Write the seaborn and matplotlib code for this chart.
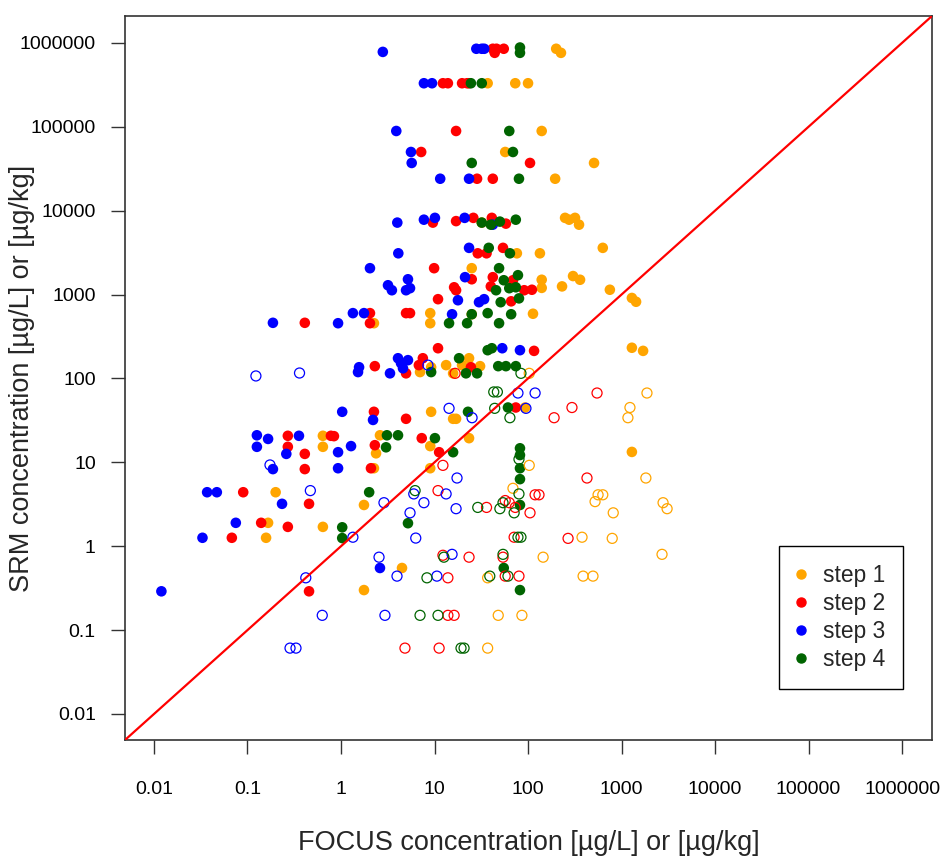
import numpy as np
import pandas as pd
import matplotlib
matplotlib.use("Agg")
import matplotlib.pyplot as plt
import seaborn as sns
from matplotlib.lines import Line2D
from matplotlib.ticker import NullLocator

sns.set_style("ticks")
plt.rcParams["font.family"] = ["Liberation Sans", "DejaVu Sans"]

# ---------------- data (FOCUS vs SRM concentration) ----------------
steps = ["step 1", "step 2", "step 3", "step 4"]
colors = ["orange", "red", "blue", "darkgreen"]

# step 1 – filled
s1_fill_x = [200, 225, 37, 73, 100, 140, 57, 508, 195, 32, 249, 275, 318, 351, 76, 134, 630,
             140, 140, 231, 303, 360, 750, 1290, 1430, 113, 1290, 1700, 1290, 25, 25, 9.0, 9.0,
             2.25, 0.64, 0.64, 0.20, 0.166, 0.64, 0.158, 7.0, 9.2, 13.3, 15.8, 19.7, 23.4, 30.7,
             9.2, 15.8, 17.0, 93, 2.61, 9.0, 23.4, 2.37, 2.25, 9.0, 1.76, 4.49, 1.76]
s1_fill_y = [850000, 760000, 330000, 330000, 330000, 89000, 50000, 37000, 24000, 7200, 8200,
             7800, 8200, 6800, 3100, 3100, 3600, 1500, 1200, 1250, 1660, 1500, 1140, 910, 820,
             590, 232, 213, 13.3, 2060, 582, 600, 455, 455, 20.7, 15.3, 4.4, 1.9, 1.7, 1.26,
             119, 136, 144, 115, 144, 174, 140, 40, 33, 33, 45, 21, 15.6, 19.4, 12.8, 8.5, 8.5,
             3.1, 0.55, 0.30]
# step 1 – open
s1_open_x = [103, 103, 69, 1870, 1230, 1170, 1820, 561, 630, 521, 2780, 3070, 815, 378, 795,
             145, 2710, 388, 495, 37, 48, 86, 37]
s1_open_y = [115, 9.2, 4.9, 67, 45, 34, 6.5, 4.1, 4.1, 3.4, 3.3, 2.8, 2.5, 1.28, 1.24, 0.74,
             0.80, 0.44, 0.44, 0.42, 0.15, 0.15, 0.061]

# step 2 – filled
s2_fill_x = [42, 46, 55, 44, 12.3, 13.9, 19.7, 22.3, 23.4, 17, 7.2, 105, 28.5, 42, 9.6, 17, 26,
             41, 58, 29, 36, 54, 110, 116, 9.9, 25, 42, 40, 69, 91, 66, 16.2, 17.0, 10.9, 4.96,
             5.47, 2.04, 2.04, 0.41, 10.9, 2.3, 4.96, 6.8, 7.5, 24.5, 2.25, 4.96, 74, 0.84, 2.3,
             7.3, 11.2, 2.09, 0.27, 0.78, 0.27, 0.41, 0.41, 0.09, 0.455, 0.14, 0.27, 0.068, 0.455]
s2_fill_y = [850000, 850000, 850000, 760000, 330000, 330000, 330000, 330000, 330000, 89000,
             50000, 37000, 24000, 24000, 7200, 7500, 8200, 8200, 7000, 3100, 3100, 3600, 1140,
             213, 2060, 1520, 1610, 1250, 1480, 1125, 830, 1220, 1125, 880, 600, 600, 600, 455,
             460, 229, 140, 115, 144, 174, 136, 40, 33, 45, 20.5, 16, 19.4, 13.2, 8.5, 20.7,
             20.7, 15.3, 12.6, 8.3, 4.4, 3.2, 1.9, 1.7, 1.26, 0.29]
# step 2 – open
s2_open_x = [547, 295, 190, 427, 119, 131, 105, 268, 16.6, 12.3, 10.9, 57, 36, 63, 73, 71, 12.3,
             23.4, 54, 13.9, 57, 80, 13.9, 16.2, 4.83, 11.2]
s2_open_y = [67, 45, 34, 6.5, 4.1, 4.1, 2.5, 1.24, 115, 9.2, 4.6, 3.5, 2.9, 3.3, 2.9, 1.28, 0.78,
             0.74, 0.74, 0.42, 0.44, 0.44, 0.15, 0.15, 0.061, 0.061]

# step 3 – filled
s3_fill_x = [2.8, 28, 32, 34, 7.7, 9.4, 3.9, 5.6, 5.7, 11.5, 23.4, 4.0, 7.7, 10.1, 21, 42, 4.1,
             23.4, 2.04, 21.2, 3.18, 3.5, 5.2, 4.96, 5.47, 17.8, 29.9, 33.9, 15.4, 0.93, 1.34,
             1.76, 0.187, 53, 82, 1.56, 1.52, 4.07, 4.38, 5.2, 4.6, 3.34, 1.03, 2.2, 1.28, 0.93,
             0.93, 0.126, 0.166, 0.355, 0.126, 0.26, 0.187, 0.037, 0.047, 0.234, 0.075, 0.033,
             0.012, 2.61]
s3_fill_y = [780000, 850000, 850000, 850000, 330000, 330000, 89000, 50000, 37000, 24000, 24000,
             7200, 7800, 8200, 8200, 6800, 3100, 3600, 2060, 1610, 1290, 1125, 1520, 1125, 1190,
             855, 810, 880, 582, 455, 600, 600, 460, 229, 217, 136, 119, 174, 152, 165, 132, 115,
             40, 32, 15.6, 13.2, 8.5, 21, 19, 20.7, 15.3, 12.6, 8.3, 4.4, 4.4, 3.2, 1.9, 1.26,
             0.29, 0.55]
# step 3 – open
s3_open_x = [0.123, 0.36, 8.5, 78, 119, 14.3, 25.2, 95, 17.4, 6.0, 13.3, 2.88, 7.7, 0.174, 0.47,
             5.47, 17, 1.34, 6.3, 2.55, 3.97, 15.4, 10.6, 0.42, 0.63, 0.285, 0.33, 2.95]
s3_open_y = [107, 116, 144, 67, 67, 44, 34, 44, 6.5, 4.2, 4.2, 3.3, 3.3, 9.3, 4.6, 2.5, 2.8, 1.28,
             1.25, 0.74, 0.44, 0.80, 0.44, 0.42, 0.15, 0.061, 0.061, 0.15]

# step 4 – filled
s4_fill_x = [82, 82, 24.5, 32, 63, 69, 25, 80, 32, 40, 50, 74, 38, 64, 49, 55, 78, 63, 74, 45.5,
             80, 51, 25, 37, 49, 66, 14.3, 22.3, 37, 41, 9.2, 18.3, 21.7, 28.5, 48, 58, 74, 61,
             22.8, 3.1, 4.07, 3.03, 10.1, 15.8, 82, 82, 82, 82, 2.0, 5.2, 1.03, 1.03, 82, 55, 82]
s4_fill_y = [880000, 760000, 330000, 330000, 89000, 50000, 37000, 24000, 7200, 6800, 7400, 7800,
             3600, 3100, 2060, 1480, 1700, 1190, 1220, 1125, 900, 810, 582, 600, 455, 582, 455,
             455, 217, 229, 119, 174, 115, 115, 140, 140, 140, 45, 40, 21, 21, 15.1, 19.4, 13.2,
             14.7, 12.2, 8.5, 6.3, 4.4, 1.88, 1.68, 1.25, 3.1, 0.55, 0.30]
# step 4 – open
s4_open_x = [84, 43, 47, 44, 64, 80, 6.2, 80, 29, 50, 54, 71, 78, 84, 12.6, 54, 8.3, 39, 61, 7.0,
             10.9, 19.2, 20.7]
s4_open_y = [115, 69, 69, 44, 34, 10.9, 4.6, 4.2, 2.9, 2.8, 3.3, 2.5, 1.28, 1.28, 0.74, 0.80,
             0.42, 0.44, 0.44, 0.15, 0.15, 0.061, 0.061]

tick_values = [0.01, 0.1, 1, 10, 100, 1000, 10000, 100000, 1000000]
tick_labels = ["0.01", "0.1", "1", "10", "100", "1000", "10000", "100000", "1000000"]

# ---------------- assemble table ----------------
groups = [
    ("step 1", s1_fill_x, s1_fill_y, s1_open_x, s1_open_y),
    ("step 2", s2_fill_x, s2_fill_y, s2_open_x, s2_open_y),
    ("step 3", s3_fill_x, s3_fill_y, s3_open_x, s3_open_y),
    ("step 4", s4_fill_x, s4_fill_y, s4_open_x, s4_open_y),
]
frames = []
for name, fx, fy, ox, oy in groups:
    frames.append(pd.DataFrame({"focus": fx, "srm": fy, "step": name, "filled": True}))
    frames.append(pd.DataFrame({"focus": ox, "srm": oy, "step": name, "filled": False}))
df = pd.concat(frames, ignore_index=True)
palette = dict(zip(steps, colors))

# ---------------- figure ----------------
W, H = 940, 856
fig = plt.figure(figsize=(W / 100, H / 100), dpi=100)
L, R, T, B = 125, 932, 16, 740
ax = fig.add_axes([L / W, 1 - B / H, (R - L) / W, (B - T) / H])

sns.scatterplot(data=df[df["filled"]], x="focus", y="srm", hue="step", hue_order=steps,
                palette=palette, s=58, linewidth=0, legend=False, ax=ax, zorder=2)
sns.scatterplot(data=df[~df["filled"]], x="focus", y="srm", hue="step", hue_order=steps,
                palette=palette, s=52, linewidth=0.9, legend=False, ax=ax, zorder=2)
coll = ax.collections[-1]
fc = coll.get_facecolors()
coll.set_edgecolors(fc)
coll.set_facecolors("none")

ax.set_xscale("log")
ax.set_yscale("log")
lim = (10 ** -2.31, 10 ** 6.32)
ax.set_xlim(lim)
ax.set_ylim(lim)
ax.plot(lim, lim, color="red", lw=1.6, zorder=3)

ax.set_xticks(tick_values)
ax.set_xticklabels(tick_labels)
ax.set_yticks(tick_values)
ax.set_yticklabels(tick_labels)
ax.xaxis.set_minor_locator(NullLocator())
ax.yaxis.set_minor_locator(NullLocator())
ax.tick_params(axis="both", direction="out", length=10, width=1, color="#333333",
               labelsize=14, labelcolor="black")
ax.tick_params(axis="x", pad=19.3)
ax.tick_params(axis="y", pad=11)
for sp in ax.spines.values():
    sp.set_color("#333333")
    sp.set_linewidth(1.2)

ax.set_xlabel("FOCUS concentration [µg/L] or [µg/kg]", fontsize=19.5, labelpad=23.5)
ax.set_ylabel("SRM concentration [µg/L] or [µg/kg]", fontsize=19.5)
ax.yaxis.label.set_verticalalignment("center")
ax.yaxis.set_label_coords((22 - L) / (R - L), 0.5)

handles = [Line2D([0], [0], marker="o", linestyle="none", markersize=6.5,
                  markerfacecolor=c, markeredgecolor=c) for c in colors]
leg = ax.legend(handles, steps, loc="upper left",
                bbox_to_anchor=(779 / W, 1 - 546 / H), bbox_transform=fig.transFigure,
                fontsize=16.4, frameon=True, fancybox=False, framealpha=1,
                edgecolor="black", borderpad=0.79, handlelength=0.35, handletextpad=0.79,
                labelspacing=0.22, borderaxespad=0)
leg.get_frame().set_linewidth(1.0)

fig.savefig("out.png", dpi=100)
